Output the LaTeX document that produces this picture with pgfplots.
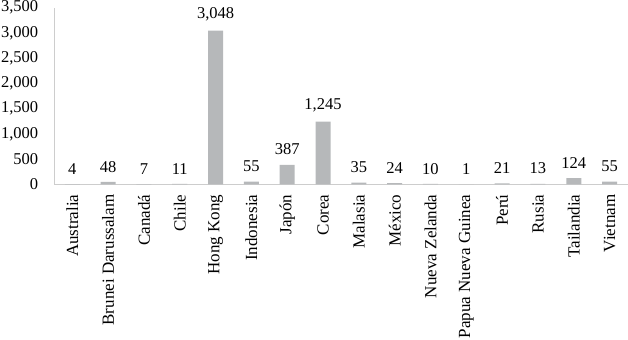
\documentclass[border=0pt]{standalone}
\usepackage{fontspec}
\setmainfont{Liberation Serif}
\usepackage{pgfplots}
\pgfplotsset{compat=1.18}
\definecolor{bargray}{RGB}{182,184,186}
\definecolor{axgray}{RGB}{205,205,205}
\begin{document}
\fontsize{16.5}{19}\selectfont
\begin{tikzpicture}
\begin{axis}[
  scale only axis, width=571bp, height=176bp,
  xmin=-0.5, xmax=15.5, ymin=0, ymax=3500,
  axis lines*=left, axis line style={axgray, line width=1pt, -},
  ytick={0,500,...,3500},
  xtick=data,
  xticklabels={Australia,Brunei Darussalam,Canadá,Chile,Hong Kong,Indonesia,Japón,Corea,Malasia,México,Nueva Zelanda,Papua Nueva Guinea,Perú,Rusia,Tailandia,Vietnam},
  xticklabel style={rotate=90, anchor=east, inner sep=1bp, xshift=-9bp, font=\fontsize{17}{19}\selectfont},
  yticklabel style={inner sep=1bp, xshift=-15bp, font=\fontsize{16.5}{19}\selectfont},
  major tick length=0pt,
  /pgf/number format/.cd, 1000 sep={,}, assume math mode=true,
  /pgfplots/.cd,
  ybar, bar width=15bp,
  nodes near coords,
  nodes near coords style={font=\fontsize{16.5}{19}\selectfont, anchor=south, yshift=4bp, black},
  clip=false,
]
\addplot[fill=bargray, draw=none] coordinates {
(0,4) (1,48) (2,7) (3,11) (4,3048) (5,55) (6,387) (7,1245)
(8,35) (9,24) (10,10) (11,1) (12,21) (13,13) (14,124) (15,55)};
\end{axis}
\end{tikzpicture}
\end{document}
